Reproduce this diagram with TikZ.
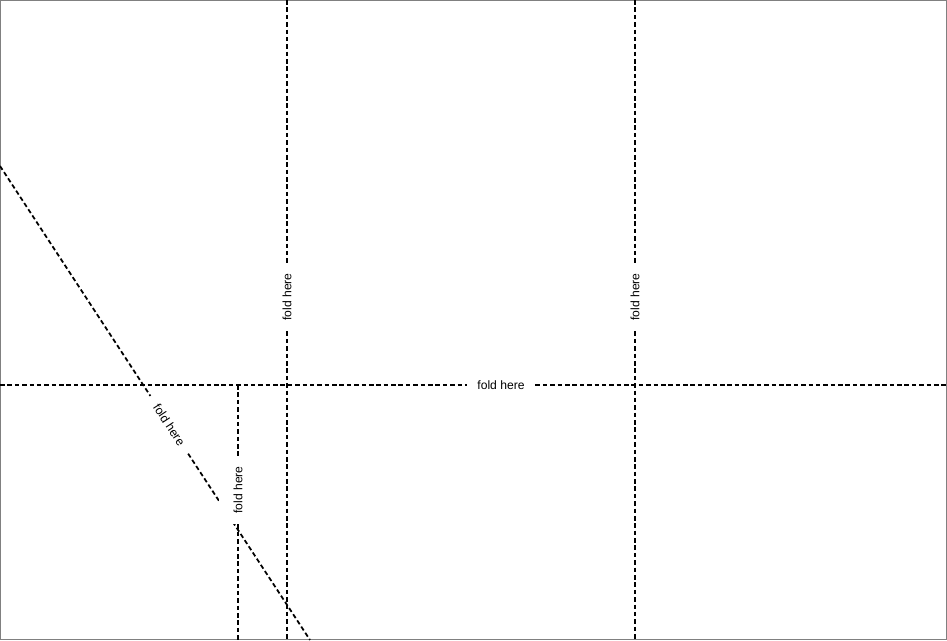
\documentclass[tikz,border=0pt]{standalone}
\usepackage{fontspec}
\setmainfont{Liberation Sans}
\usetikzlibrary{calc}
\tikzstyle{fold} = [draw, line width=1pt, dash pattern=on 2.6pt off 1.6pt]
\tikzstyle{foldlabel} = [fill=white, inner xsep=6pt, inner ysep=8pt, font=\fontsize{6.9}{8}\selectfont]
\tikzstyle{frame} = [draw, black!50, line width=0.6pt]

\begin{document}
\begin{tikzpicture}[x=0.02cm, y=-0.02cm]
      \useasboundingbox (0,0) rectangle (947,640);
      \draw[frame] (0.5,0.5) rectangle (946.5,639.5);

      % fold line ends
      \coordinate (dtop) at (0,166);
      \coordinate (dbot) at (310,640);
      \coordinate (hleft) at (0,385);
      \coordinate (hright) at (947,385);
      \coordinate (atop) at (287,0);
      \coordinate (abot) at (287,640);
      \coordinate (btop) at (635,0);
      \coordinate (bbot) at (635,640);
      \coordinate (ctop) at (238,385);
      \coordinate (cbot) at (238,640);

      % slanted fold
      \node (dlbl) at ($(dtop)!0.546!(dbot)$) [foldlabel, rotate=-56.8] {fold here};
      \draw[fold] (dtop) -- (dlbl) -- (dbot);

      % short fold
      \node (clbl) at (238,490) [foldlabel, rotate=90] {fold here};
      \draw[fold] (ctop) -- (clbl) -- (cbot);

      % long folds
      \node (albl) at (287,297) [foldlabel, rotate=90] {fold here};
      \draw[fold] (atop) -- (albl) -- (abot);
      \node (blbl) at (635,297) [foldlabel, rotate=90] {fold here};
      \draw[fold] (btop) -- (blbl) -- (bbot);
      \node (hlbl) at (501,385) [foldlabel] {fold here};
      \draw[fold] (hleft) -- (hlbl) -- (hright);
\end{tikzpicture}
\end{document}
